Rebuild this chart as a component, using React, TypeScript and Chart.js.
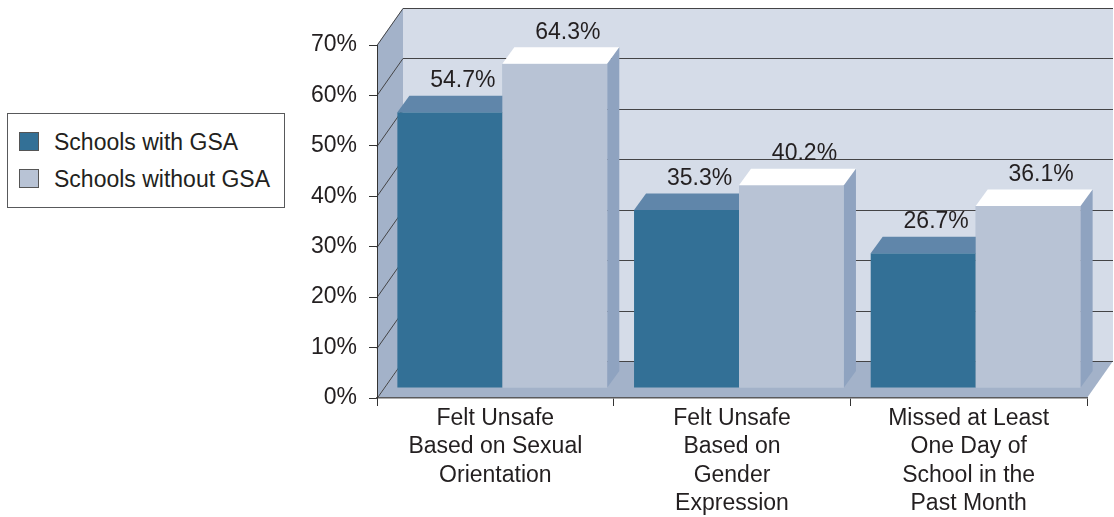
import React, { useEffect, useRef } from "react";
import { Chart, registerables } from "chart.js";

Chart.register(...registerables);

// ---- data ----
const categories: string[][] = [
  ["Felt Unsafe", "Based on Sexual", "Orientation"],
  ["Felt Unsafe", "Based on", "Gender", "Expression"],
  ["Missed at Least", "One Day of", "School in the", "Past Month"],
];
const seriesNames = ["Schools with GSA", "Schools without GSA"];
const withGSA = [54.7, 35.3, 26.7];
const withoutGSA = [64.3, 40.2, 36.1];
const yTickValues = [0, 10, 20, 30, 40, 50, 60, 70];
const yTickLabels = ["0%", "10%", "20%", "30%", "40%", "50%", "60%", "70%"];

// ---- styles ----
const FONT = "'Liberation Sans', Arial, Helvetica, sans-serif";
const FS = 23;
const TEXT = "#231f20";
const DARK = "#337096";
const DARK_TOP = "#6086aa";
const DARK_SIDE = "#2a5d7e";
const LIGHT = "#b8c3d5";
const LIGHT_TOP = "#ffffff";
const LIGHT_SIDE = "#8fa3c0";
const BACK = "#d5dce8";
const WALL = "#a3b2c9";
const GRID = "#444446";

const DX = 26; // full depth offset x
const DY = -37; // full depth offset y
const BX = 7; // bar front plane offset
const BY = -10;
const BDX = 12; // bar depth
const BDY = -16.5;

const faceColors = [
  { top: DARK_TOP, side: DARK_SIDE },
  { top: LIGHT_TOP, side: LIGHT_SIDE },
];

function poly(ctx: CanvasRenderingContext2D, pts: number[][], fill: string) {
  ctx.beginPath();
  ctx.moveTo(pts[0][0], pts[0][1]);
  for (let i = 1; i < pts.length; i++) ctx.lineTo(pts[i][0], pts[i][1]);
  ctx.closePath();
  ctx.fillStyle = fill;
  ctx.fill();
}

const threeD = {
  id: "threeD",
  beforeDraw(chart: any) {
    const { ctx, chartArea } = chart;
    const { left, right, top, bottom } = chartArea;
    const y = chart.scales.y;
    ctx.save();
    // back wall
    poly(ctx, [[left + DX, top + DY], [right + DX, top + DY], [right + DX, bottom + DY], [left + DX, bottom + DY]], BACK);
    // side wall
    poly(ctx, [[left, bottom], [left, top], [left + DX, top + DY], [left + DX, bottom + DY]], WALL);
    // floor
    poly(ctx, [[left, bottom], [right, bottom], [right + DX, bottom + DY], [left + DX, bottom + DY]], WALL);
    // grid lines
    ctx.strokeStyle = GRID;
    ctx.lineWidth = 1;
    yTickValues.forEach((v) => {
      const py = Math.round(y.getPixelForValue(v)) + 0.5;
      ctx.beginPath();
      ctx.moveTo(left, py);
      ctx.lineTo(left + DX, py + DY);
      ctx.lineTo(right + DX, py + DY);
      ctx.stroke();
    });
    ctx.restore();
  },
  beforeDatasetsDraw(chart: any) {
    chart.ctx.save();
    chart.ctx.translate(BX, BY);
  },
  afterDatasetsDraw(chart: any) {
    const ctx = chart.ctx;
    const metas = [chart.getDatasetMeta(0), chart.getDatasetMeta(1)];
    const n = chart.data.labels.length;
    for (let i = 0; i < n; i++) {
      metas.forEach((meta: any, d: number) => {
        const el = meta.data[i];
        if (!el) return;
        if (d > 0) el.draw(ctx, chart.chartArea);
        const { x, y, base, width } = el.getProps(["x", "y", "base", "width"], true);
        const l = x - width / 2;
        const r = x + width / 2;
        const t = Math.min(y, base);
        const b = Math.max(y, base);
        poly(ctx, [[l, t], [r, t], [r + BDX, t + BDY], [l + BDX, t + BDY]], faceColors[d].top);
        poly(ctx, [[r, t], [r + BDX, t + BDY], [r + BDX, b + BDY], [r, b]], faceColors[d].side);
      });
    }
    // value labels
    ctx.fillStyle = TEXT;
    ctx.font = `${FS}px ${FONT}`;
    ctx.textAlign = "center";
    ctx.textBaseline = "middle";
    metas.forEach((meta: any, d: number) => {
      const data = chart.data.datasets[d].data;
      meta.data.forEach((el: any, i: number) => {
        const { x, y } = el.getProps(["x", "y"], true);
        ctx.fillText(data[i].toFixed(1) + "%", x + 13, y + BDY - 15);
      });
    });
    ctx.restore();
  },
};

export default function App() {
  const ref = useRef<HTMLCanvasElement>(null);

  useEffect(() => {
    if (!ref.current) return;
    const chart = new Chart(ref.current, {
      type: "bar",
      data: {
        labels: categories,
        datasets: [
          {
            label: seriesNames[0],
            data: withGSA,
            backgroundColor: DARK,
            borderWidth: 0,
            clip: false as any,
          },
          {
            label: seriesNames[1],
            data: withoutGSA,
            backgroundColor: LIGHT,
            borderWidth: 0,
            clip: false as any,
          },
        ],
      },
      options: {
        responsive: false,
        animation: false,
        events: [],
        layout: { padding: { left: 0, top: 45, right: 27, bottom: 0 } },
        datasets: { bar: { categoryPercentage: 0.887, barPercentage: 1 } },
        plugins: { legend: { display: false }, tooltip: { enabled: false } },
        scales: {
          x: {
            grid: { drawOnChartArea: false, drawTicks: true, tickLength: 8, color: "#333" },
            border: { display: true, color: "#5a5a5c", width: 1.5 },
            ticks: {
              color: TEXT,
              font: { family: FONT, size: FS, lineHeight: 1.239 },
              padding: -2,
              autoSkip: false,
              maxRotation: 0,
              minRotation: 0,
            },
            afterFit: (scale: any) => {
              scale.height = 119;
            },
          },
          y: {
            min: 0,
            max: 70,
            afterBuildTicks: (scale: any) => {
              scale.ticks = yTickValues.map((v) => ({ value: v }));
            },
            grid: { drawOnChartArea: false, drawTicks: true, tickLength: 8, color: "#333" },
            border: { display: true, color: "#333", width: 1 },
            ticks: {
              color: TEXT,
              font: { family: FONT, size: FS },
              padding: 12,
              callback: (_v: any, i: number) => yTickLabels[i],
            },
            afterFit: (scale: any) => {
              scale.width = 377;
            },
          },
        },
      } as any,
      plugins: [threeD],
    });
    return () => chart.destroy();
  }, []);

  const swatch = (color: string, top: number): React.CSSProperties => ({
    position: "absolute",
    left: 11,
    top,
    width: 20,
    height: 19,
    boxSizing: "border-box",
    background: color,
    border: "1px solid #555",
  });
  const label = (top: number): React.CSSProperties => ({
    position: "absolute",
    left: 46,
    top,
    fontFamily: FONT,
    fontSize: FS,
    lineHeight: `${FS}px`,
    color: TEXT,
    whiteSpace: "nowrap",
  });

  return (
    <div style={{ position: "absolute", left: 0, top: 0, width: 1114, height: 517, background: "#fff" }}>
      <canvas ref={ref} width={1114} height={517} style={{ display: "block" }} />
      <div
        style={{
          position: "absolute",
          left: 7,
          top: 113,
          width: 278,
          height: 95,
          boxSizing: "border-box",
          border: "1px solid #58595b",
          background: "#fff",
        }}
      >
        <div style={swatch(DARK, 18)} />
        <div style={label(17)}>{seriesNames[0]}</div>
        <div style={swatch(LIGHT, 55)} />
        <div style={label(54)}>{seriesNames[1]}</div>
      </div>
    </div>
  );
}
